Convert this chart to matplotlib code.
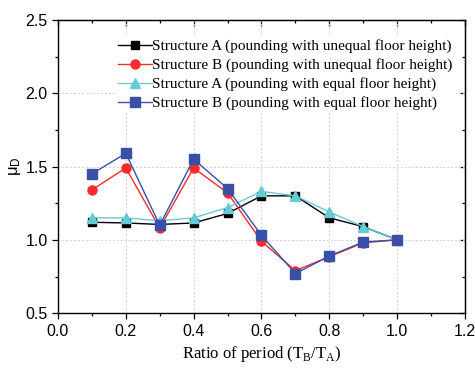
import matplotlib
matplotlib.use("Agg")
import matplotlib.pyplot as plt
from matplotlib.ticker import MultipleLocator

ratio = [0.1, 0.2, 0.3, 0.4, 0.5, 0.6, 0.7, 0.8, 0.9, 1.0]
a_unequal = [1.12, 1.115, 1.105, 1.115, 1.18, 1.30, 1.30, 1.15, 1.09, 1.0]
b_unequal = [1.34, 1.49, 1.08, 1.49, 1.32, 0.99, 0.79, 0.885, 0.98, 1.0]
a_equal = [1.15, 1.15, 1.13, 1.15, 1.22, 1.33, 1.30, 1.19, 1.09, 1.0]
b_equal = [1.45, 1.59, 1.10, 1.55, 1.35, 1.03, 0.77, 0.89, 0.985, 1.0]

labels = [
    "Structure A (pounding with unequal floor height)",
    "Structure B (pounding with unequal floor height)",
    "Structure A (pounding with equal floor height)",
    "Structure B (pounding with equal floor height)",
]

fig = plt.figure(figsize=(4.75, 3.68), dpi=100)
ax = fig.add_axes([0.122, 0.149, 0.857, 0.797])

ax.plot(ratio, a_unequal, color="black", marker="s", ms=5.5, lw=1.0, label=labels[0])
ax.plot(ratio, b_unequal, color="#ff2a2a", marker="o", ms=6.5, lw=1.0, label=labels[1])
ax.plot(ratio, a_equal, color="#66cbd6", marker="^", ms=6.5, lw=1.0, label=labels[2])
ax.plot(ratio, b_equal, color="#3a4fa8", marker="s", ms=6.5, lw=1.0, label=labels[3])

ax.set_xlim(0.0, 1.2)
ax.set_ylim(0.5, 2.5)
ax.xaxis.set_major_locator(MultipleLocator(0.2))
ax.xaxis.set_minor_locator(MultipleLocator(0.1))
ax.yaxis.set_major_locator(MultipleLocator(0.5))
ax.yaxis.set_minor_locator(MultipleLocator(0.25))
ax.set_xticklabels([f"{v:.1f}" for v in ax.get_xticks()])
ax.set_yticklabels([f"{v:.1f}" for v in ax.get_yticks()])

ax.grid(True, which="major", linestyle=(0, (2, 2)), color="#d0d0d0", lw=0.7)
ax.set_axisbelow(True)

ax.tick_params(which="both", direction="out", top=False, right=False,
               labelsize=11.5, width=0.9)
ax.tick_params(which="major", length=4)
ax.tick_params(which="minor", length=2.5)
for lab in ax.get_xticklabels() + ax.get_yticklabels():
    lab.set_family("Liberation Sans")

sec_x = ax.secondary_xaxis("top")
sec_x.xaxis.set_major_locator(MultipleLocator(0.2))
sec_x.xaxis.set_minor_locator(MultipleLocator(0.1))
sec_x.tick_params(which="both", direction="in", labeltop=False, width=0.9)
sec_x.tick_params(which="major", length=4)
sec_x.tick_params(which="minor", length=2.5)
sec_y = ax.secondary_yaxis("right")
sec_y.yaxis.set_major_locator(MultipleLocator(0.5))
sec_y.yaxis.set_minor_locator(MultipleLocator(0.25))
sec_y.tick_params(which="both", direction="in", labelright=False, width=0.9)
sec_y.tick_params(which="major", length=4)
sec_y.tick_params(which="minor", length=2.5)

for s in ax.spines.values():
    s.set_linewidth(1.0)

ax.set_xlabel("Ratio of period (T$_\\mathregular{B}$/T$_\\mathregular{A}$)",
              family="Liberation Serif", fontsize=12, labelpad=4)
ax.set_ylabel("$\\mathregular{\\mu_D}$", family="Liberation Sans", fontsize=12, labelpad=2)

leg = ax.legend(loc="upper right", bbox_to_anchor=(0.985, 0.955), frameon=True,
                prop={"family": "Liberation Serif", "size": 11},
                handlelength=2.2, handletextpad=0.05, labelspacing=0.33,
                borderaxespad=0.2, borderpad=0.2, fancybox=False)
leg.get_frame().set_edgecolor("none")
leg.get_frame().set_facecolor("white")
leg.get_frame().set_alpha(1.0)

fig.savefig("out.png", dpi=100)
